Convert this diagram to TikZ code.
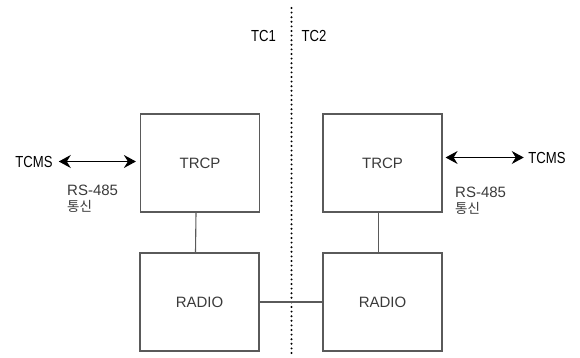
\documentclass[tikz,border=0pt]{standalone}
\usepackage{fontspec}
\setmainfont{Liberation Sans}
\newfontfamily\krfont{Noto Sans CJK KR}
\newfontfamily\narrowfont[FakeStretch=0.82]{Liberation Sans}
\usetikzlibrary{arrows.meta}
\definecolor{boxline}{HTML}{5A5A5A}
\definecolor{boxtext}{HTML}{3A3A3A}
\begin{document}
\begin{tikzpicture}[x=1pt,y=-1pt,
  box/.style={draw=boxline, line width=1.2pt, minimum width=119pt, minimum height=98pt,
    inner sep=0pt, text=boxtext, font=\fontsize{15}{15}\selectfont},
  link/.style={draw=boxline, line width=1.1pt},
  lbl/.style={inner sep=0pt, font=\narrowfont\fontsize{16}{16}\selectfont},
  note/.style={inner sep=0pt, anchor=north west, align=left, text=boxtext,
    font=\fontsize{15}{15.5}\selectfont},
  arr/.style={line width=1pt, {Stealth[length=12pt,width=13pt,inset=4pt]}-{Stealth[length=12pt,width=13pt,inset=4pt]}},
  sep/.style={line width=2.2pt, line cap=round, dash pattern=on 0pt off 4.6pt}
]
\useasboundingbox (0,0) rectangle (580,358);
% separator
\coordinate (septop) at (291.5,8);
\coordinate (sepbot) at (291.5,355);
\draw[sep] (septop) -- (sepbot);
\node[lbl] (tc1) at (263.5,36) {TC1};
\node[lbl] (tc2) at (314,36) {TC2};
% boxes
\node[box] (trcp1) at (200,163) {TRCP};
\node[box] (trcp2) at (382.5,163) {TRCP};
\node[box] (radio1) at (199.5,302) {RADIO};
\node[box] (radio2) at (382.5,302) {RADIO};
% vertical links
\draw[link] ([xshift=-4pt]trcp1.south) -- ([xshift=-4pt]radio1.north);
\draw[link] ([xshift=-4pt]trcp2.south) -- ([xshift=-4pt]radio2.north);
\draw[link] (radio1.east) -- (radio2.west);
% TCMS
\node[lbl] (tcms1) at (34,161.5) {TCMS};
\node[lbl] (tcms2) at (547,157.5) {TCMS};
\coordinate (a1) at (trcp1.west |- tcms1);
\coordinate (a2) at (trcp2.east |- tcms2);
\draw[arr, shorten <=6pt, shorten >=4pt] (tcms1.east) -- (a1);
\draw[arr, shorten <=3pt, shorten >=4.5pt] (a2) -- (tcms2.west);
% RS-485 notes
\node[note] (rs1) at (67,185) {RS-485\\{\krfont\fontsize{13.5}{13.5}\selectfont 통신}};
\node[note] (rs2) at (455,187) {RS-485\\{\krfont\fontsize{13.5}{13.5}\selectfont 통신}};
\end{tikzpicture}
\end{document}
